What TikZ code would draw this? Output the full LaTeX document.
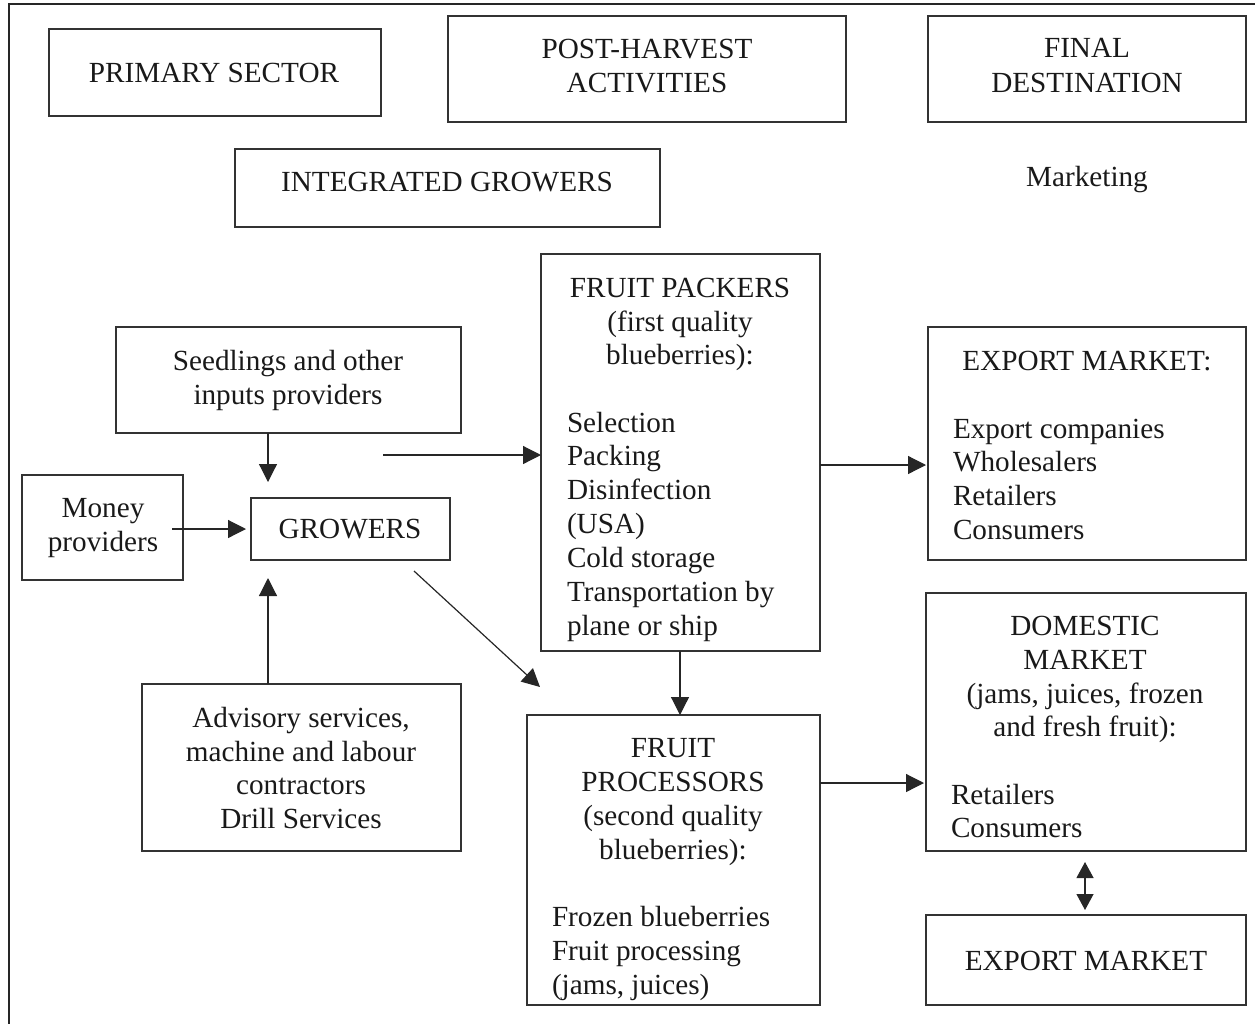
\documentclass[tikz,border=0pt]{standalone}
\usepackage{fontspec}
\setmainfont{Liberation Serif}
\usetikzlibrary{arrows.meta}
\newcounter{tn}
\newcommand\tl[4][base]{\stepcounter{tn}\node[txt,anchor=#1] (t\thetn) at (#2,#3) {#4};}
\begin{document}
\begin{tikzpicture}[x=1pt,y=-1pt,
  box/.style={draw=black!80,line width=1.3pt,rectangle,inner sep=0pt,outer sep=0pt},
  txt/.style={inner sep=0pt,outer sep=0pt,font=\fontsize{29.2}{33.7}\selectfont,text=black!90},
  arr/.style={draw=black!85,line width=1.2pt,-{Triangle[length=18pt,width=18pt]}},
  darr/.style={draw=black!85,line width=1.2pt,{Triangle[length=16pt,width=17pt]}-{Triangle[length=16pt,width=17pt]}}]
\useasboundingbox (0,0) rectangle (1255,1023);
% outer frame
\draw[black!85,line width=1.8pt] (9,1030) -- (9,4) -- (1262,4);
% boxes
\node[box,minimum width=332pt,minimum height=87pt] (primary) at (215,72.5) {};
\node[box,minimum width=398pt,minimum height=106pt] (post) at (647,69) {};
\node[box,minimum width=318pt,minimum height=106pt] (final) at (1087,69) {};
\node[box,minimum width=425pt,minimum height=78pt] (integ) at (447.5,188) {};
\node[box,minimum width=279pt,minimum height=397pt] (packers) at (680.5,452.5) {};
\node[box,minimum width=345pt,minimum height=106pt] (seed) at (288.5,380) {};
\node[box,minimum width=161pt,minimum height=105pt] (money) at (102.5,527.5) {};
\node[box,minimum width=199pt,minimum height=62pt] (growers) at (350.5,529) {};
\node[box,minimum width=319pt,minimum height=167pt] (advis) at (301.5,767.5) {};
\node[box,minimum width=293pt,minimum height=290pt] (proc) at (673.5,860) {};
\node[box,minimum width=318pt,minimum height=233pt] (exp1) at (1087,443.5) {};
\node[box,minimum width=320pt,minimum height=258pt] (dom) at (1086,722) {};
\node[box,minimum width=320pt,minimum height=90pt] (exp2) at (1086,960) {};
% texts
\tl{214}{82}{PRIMARY SECTOR}
\tl{647}{58}{POST-HARVEST}
\tl{647}{92}{ACTIVITIES}
\tl{1087}{57}{FINAL}
\tl{1087}{92}{DESTINATION}
\tl{447}{191}{INTEGRATED GROWERS}
\tl{1087}{186}{Marketing}
\tl{680}{297}{FRUIT PACKERS}
\tl{680}{331}{(first quality}
\tl{680}{364}{blueberries):}
\tl[base west]{567}{432}{Selection}
\tl[base west]{567}{465}{Packing}
\tl[base west]{567}{499}{Disinfection}
\tl[base west]{567}{533}{(USA)}
\tl[base west]{567}{567}{Cold storage}
\tl[base west]{567}{601}{Transportation by}
\tl[base west]{567}{635}{plane or ship}
\tl{288}{370}{Seedlings and other}
\tl{288}{404}{inputs providers}
\tl{103}{517}{Money}
\tl{103}{551}{providers}
\tl{350}{538}{GROWERS}
\tl{301}{727}{Advisory services,}
\tl{301}{761}{machine and labour}
\tl{301}{794}{contractors}
\tl{301}{828}{Drill Services}
\tl{673}{757}{FRUIT}
\tl{673}{791}{PROCESSORS}
\tl{673}{825}{(second quality}
\tl{673}{859}{blueberries):}
\tl[base west]{552}{926}{Frozen blueberries}
\tl[base west]{552}{960}{Fruit processing}
\tl[base west]{552}{994}{(jams, juices)}
\tl{1087}{370}{EXPORT MARKET:}
\tl[base west]{953}{438}{Export companies}
\tl[base west]{953}{471}{Wholesalers}
\tl[base west]{953}{505}{Retailers}
\tl[base west]{953}{539}{Consumers}
\tl{1085}{635}{DOMESTIC}
\tl{1085}{669}{MARKET}
\tl{1085}{703}{(jams, juices, frozen}
\tl{1085}{736}{and fresh fruit):}
\tl[base west]{951}{804}{Retailers}
\tl[base west]{951}{837}{Consumers}
\tl{1086}{970}{EXPORT MARKET}
% connector free ends
\coordinate (pin) at (383,455);
\coordinate (dgs) at (414,571);
\coordinate (dge) at (540,687);
% connectors
\draw[arr] (seed.south -| 268,0) -- ([yshift=16pt]growers.north -| 268,0);
\draw[arr] ([xshift=-11pt]money.east |- 0,529) -- ([xshift=-5pt]growers.west |- 0,529);
\draw[arr] (advis.north -| 268,0) -- ([yshift=-18pt]growers.south -| 268,0);
\draw[arr] (pin) -- (packers.west |- pin);
\draw[arr] (dgs) -- (dge);
\draw[arr] (packers.south -| 680,0) -- (proc.north -| 680,0);
\draw[arr] (packers.east |- 0,465) -- ([xshift=-2pt]exp1.west |- 0,465);
\draw[arr] (proc.east |- 0,783) -- ([xshift=-2pt]dom.west |- 0,783);
\draw[darr] ([yshift=-11pt]dom.south -| 1085,0) -- ([yshift=5pt]exp2.north -| 1085,0);
\end{tikzpicture}
\end{document}
